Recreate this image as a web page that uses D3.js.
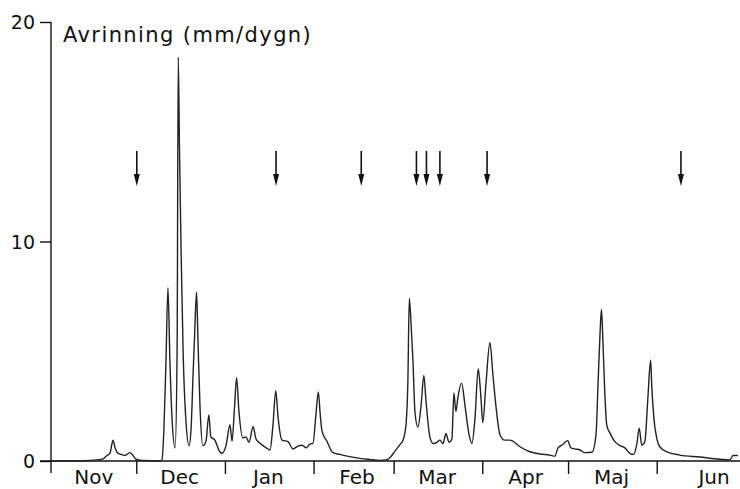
<!DOCTYPE html>
<html>
<head>
<meta charset="utf-8">
<script src="https://cdn.jsdelivr.net/npm/d3@7"></script>
<style>
  html, body { margin: 0; padding: 0; background: #fff; }
  svg text { font-family: "DejaVu Sans", sans-serif; fill: #111; }
</style>
</head>
<body>
<svg id="chart" width="740" height="489"></svg>
<script>
// dagar räknat från 1 nov
const days = [
  0, 10, 13.6, 16, 18.2, 19.6, 20.6, 21.7, 22.4, 23.1, 24.5, 25.9, 27.6, 28.7, 29.7, 31.8, 38.1, 38.8,
  39.5, 40.2, 40.9, 41.6, 42.3, 43.4, 44.1, 44.5, 44.9, 45.5, 46.2, 47.2, 48.3, 49, 49.7, 50.3, 50.9,
  51.4, 52.1, 53.1, 54.2, 55.2, 55.9, 57.3, 58.7, 59.8, 61.2, 62.6, 63.3, 64.2, 64.9, 65.7, 67.1, 68.2,
  69.2, 70.7, 71.7, 72.7, 74.8, 76.6, 77.6, 78.6, 79.4, 80.8, 82.9, 84.6, 86.4, 87.8, 89.2, 90.6, 91.6,
  92.7, 93.5, 94.1, 94.8, 96.5, 98.6, 101, 104.5, 108, 111.5, 115, 117.1, 118.5, 120.3, 122, 123.1,
  124.1, 124.8, 125.3, 125.9, 126.6, 127.3, 128.3, 129.4, 130.4, 131.1, 132.5, 133.6, 135, 136, 137.1,
  138.1, 139.2, 140.2, 140.9, 141.6, 142.3, 143.6, 144.8, 146.2, 147.2, 148.3, 149.4, 150.3, 151,
  152.1, 153.5, 154.5, 155.6, 157, 158.7, 160.5, 161.5, 164, 167.5, 171, 174.5, 176.2, 177.3, 179,
  180.7, 181.8, 183.2, 185, 186.7, 189.2, 190.6, 191.3, 192, 192.5, 193, 193.7, 194.4, 195.5, 197.2,
  199, 200.7, 202.4, 203.8, 204.9, 205.7, 206.6, 207.7, 208.7, 209.7, 210.1, 210.8, 211.9, 212.9,
  215.4, 219.9, 226.9, 233.9, 237.4, 238.5, 240.2
];
// avrinning mm/dygn
const runoff = [
  0, 0, 0.02, 0.05, 0.1, 0.25, 0.35, 0.95, 0.6, 0.4, 0.3, 0.25, 0.38, 0.25, 0.08, 0.02, 0, 0.05,
  1.5, 4.5, 7.9, 4.5, 2, 0.6, 5, 18.4, 14.5, 9.5, 5, 1.8, 0.7, 1.5, 4, 6, 7.7,
  5.5, 2.5, 0.7, 0.9, 2.1, 1.1, 0.95, 0.5, 0.35, 0.7, 1.65, 0.9, 2.5, 3.8, 2.3, 1.05, 1.1,
  0.85, 1.56, 1.0, 0.85, 0.64, 0.5, 1.6, 3.2, 2.0, 0.95, 0.88, 0.55, 0.68, 0.72, 0.6, 0.78, 0.8,
  2.2, 3.15, 2.2, 1.35, 0.9, 0.38, 0.3, 0.2, 0.12, 0.07, 0.03, 0.05, 0.15, 0.45, 0.75, 0.95,
  1.6, 3.6, 7.4, 6.3, 4.5, 2.2, 1.55, 2.5, 3.9, 2.8, 1.1, 0.8, 0.85, 0.95, 0.8,
  1.25, 0.85, 1.0, 3.1, 2.25, 2.9, 3.55, 2.5, 1.2, 0.8, 2.0, 4.2, 3.0, 1.75,
  3.5, 5.4, 4.0, 2.5, 1.2, 0.95, 0.95, 0.9, 0.65, 0.42, 0.32, 0.27, 0.22, 0.6, 0.75,
  0.93, 0.6, 0.55, 0.5, 0.38, 0.4, 1.2, 3.5, 5.8, 6.9, 5.5, 3.0, 1.6, 1.27, 0.88,
  0.7, 0.6, 0.35, 0.3, 0.8, 1.5, 0.72, 0.9, 2.8, 4.6, 3.4, 2.0, 1.0, 0.65,
  0.42, 0.27, 0.18, 0.08, 0.05, 0.25, 0.25
];
const monthNames = ["Nov", "Dec", "Jan", "Feb", "Mar", "Apr", "Maj", "Jun"];
const yTicks = [0, 10, 20];
// pilar (dagar från 1 nov)
const arrowDays = [30, 78.7, 108.5, 127.8, 131.3, 136, 152.5, 220.3];
const yLabel = "Avrinning (mm/dygn)";

const start = new Date(Date.UTC(1980, 10, 1));
const end = new Date(Date.UTC(1981, 6, 1));
const toDate = (d) => new Date(start.getTime() + d * 864e5);

const svg = d3.select("#chart");

const x = d3.scaleUtc().domain([start, end]).range([51, 743]);
const y = d3.scaleLinear().domain([0, 20]).range([461, 22]);

const data = days.map((d, i) => ({ date: toDate(d), v: runoff[i] }));

// y-axel
const yAxis = d3.axisLeft(y).tickValues(yTicks).tickSize(11).tickPadding(5);
const gy = svg.append("g").attr("transform", "translate(51,0)").call(yAxis);
gy.select(".domain").remove();
gy.selectAll(".tick line").attr("stroke", "#111").attr("stroke-width", 1.4);
gy.selectAll(".tick text").style("font-size", "19px").attr("dy", "0.35em");
svg.append("line")
  .attr("x1", 51).attr("x2", 51)
  .attr("y1", y(20)).attr("y2", 473)
  .attr("stroke", "#111").attr("stroke-width", 1.4);

// x-axel
svg.append("line")
  .attr("x1", 40).attr("x2", 740)
  .attr("y1", y(0)).attr("y2", y(0))
  .attr("stroke", "#111").attr("stroke-width", 1.4);

const months = d3.utcMonth.range(start, end);
svg.append("g").selectAll("line")
  .data(months.slice(1))
  .enter()
  .append("line")
  .attr("x1", (d) => x(d)).attr("x2", (d) => x(d))
  .attr("y1", y(0)).attr("y2", 474)
  .attr("stroke", "#111").attr("stroke-width", 1.4);

svg.append("g").selectAll("text")
  .data(months)
  .enter()
  .append("text")
  .attr("x", (d, i) => {
    const mid = x(d3.utcDay.offset(d, 15));
    return i === months.length - 1 ? mid + 14 : mid;
  })
  .attr("y", 484)
  .attr("text-anchor", "middle")
  .style("font-size", "20px")
  .text((d, i) => monthNames[i]);

// etikett
svg.append("text")
  .attr("x", 63).attr("y", 42)
  .style("font-size", "21px")
  .style("letter-spacing", "1.4px")
  .text(yLabel);

// kurva
const line = d3.line()
  .curve(d3.curveMonotoneX)
  .x((d) => x(d.date))
  .y((d) => y(d.v));

svg.append("path")
  .datum(data)
  .attr("fill", "none")
  .attr("stroke", "#222")
  .attr("stroke-width", 1.4)
  .attr("stroke-linejoin", "round")
  .attr("d", line);

// pilar
const arrows = svg.append("g").selectAll("g")
  .data(arrowDays)
  .enter()
  .append("g")
  .attr("transform", (d) => "translate(" + x(toDate(d)) + ",0)");
arrows.append("line")
  .attr("x1", 0).attr("x2", 0)
  .attr("y1", 151).attr("y2", 178)
  .attr("stroke", "#111").attr("stroke-width", 1.6);
arrows.append("path")
  .attr("d", "M-3,174L3,174L0,186Z")
  .attr("fill", "#111");
</script>
</body>
</html>
